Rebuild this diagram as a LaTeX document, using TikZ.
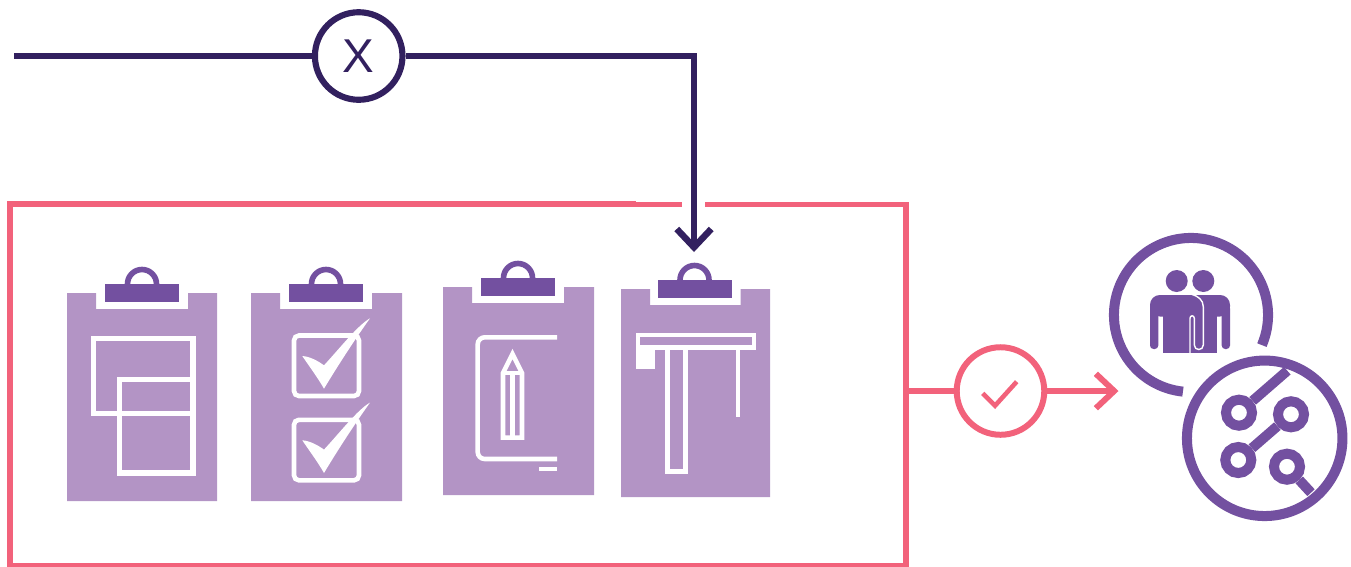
\documentclass[tikz,border=0pt]{standalone}
\usepackage{fontspec}
\setmainfont{Liberation Sans}
\usepackage{xcolor}
\usepackage{tikz}
\usetikzlibrary{arrows.meta}

\definecolor{wirepurple}{HTML}{32205F}
\definecolor{rosered}{HTML}{F2627B}
\definecolor{clippurple}{HTML}{7350A0}
\definecolor{boardpurple}{HTML}{B394C5}

\begin{document}
\begin{tikzpicture}[
  x=0.01cm, y=-0.01cm,
  panel/.style={rectangle, draw=rosered, line width=1.75pt, inner sep=0pt,
                minimum width=8.96cm, minimum height=3.615cm},
  wire/.style={draw=wirepurple, line width=1.85pt},
  gate/.style={circle, draw, fill=white, inner sep=0pt, minimum size=0.875cm},
  redwire/.style={draw=rosered, line width=1.7pt},
  sketch/.style={draw=white, line width=1.5pt},
  thinsketch/.style={draw=white, line width=1.3pt},
  band/.style={draw=clippurple, line width=2.85pt},
  hub/.style={circle, draw=clippurple, line width=2.85pt, inner sep=0pt,
              minimum size=0.26cm},
  pics/clipboard/.style 2 args={code={
    \fill[boardpurple] (0,0) -- (29,0) -- (29,16) -- (121+#2,16) -- (121+#2,0)
      -- (#1,0) -- (#1,208) -- (0,208) -- cycle;
    \draw[clippurple, line width=1.6pt] (75+#2,-9) circle[radius=14.5];
    \fill[clippurple] (38+#2,-9) rectangle (112+#2,9);
  }}
]
\useasboundingbox (0,0) rectangle (1351,566);

\node[panel] (panel) at (458,384.75) {};
\fill[white] (636,199) rectangle (911,202);
\fill[white] (682,199) rectangle (705,209);

\foreach \name/\posx/\posy/\wide/\nudge in {
  one/67/293/150/0, two/251/293/151/0, three/443/287/151/0, four/621/289/149/-1.5}
  \pic (board\name) at (\posx,\posy) {clipboard={\wide}{\nudge}};

\draw[sketch] (93.7,338.7) rectangle (193,413.3);
\draw[sketch] (119.7,379.4) rectangle (193,473);

\foreach \dy in {0,84.3} {
  \begin{scope}[shift={(0,\dy)}]
    \draw[thinsketch, rounded corners=1.4pt] (294,335.5) rectangle (359,396);
    \fill[white] (302.3,356) .. controls (310,356.5) and (318,361) .. (324,365.3)
      .. controls (340,348) and (358,325) .. (370,318.3)
      .. controls (358,335) and (340,362) .. (324,388.7)
      .. controls (318,378) and (309,366) .. cycle;
  \end{scope}
}

\draw[thinsketch, rounded corners=2pt] (557,337.3) -- (477.7,337.3) -- (477.7,459) -- (557,459);
\draw[thinsketch] (539,469) -- (557,469);
\draw[thinsketch] (503,437.7) -- (503,373) -- (512.5,354) -- (522,373) -- (522,437.7) -- cycle;
\draw[thinsketch] (503,373) -- (522,373);
\draw[thinsketch] (512.5,373) -- (512.5,437.7);

\draw[thinsketch] (638,335) rectangle (754,347.6);
\fill[white] (635.7,347.6) rectangle (655,369.3);
\draw[thinsketch] (667.3,350) -- (667.3,471.7) -- (685.4,471.7) -- (685.4,350);
\draw[thinsketch] (738,350) -- (738,417);

\coordinate (wirestart) at (14,56);
\coordinate (wiretip) at (694,252);
\node[gate, draw=wirepurple, line width=1.75pt, text=wirepurple,
      font=\fontsize{13.5}{16}\selectfont] (rejectgate) at (358.7,56) {X};
\draw[wire] (wirestart) -- (rejectgate);
\draw[wire, -{Straight Barb[length=5.2pt,width=9.8pt]}] (rejectgate) -| (wiretip);

\node[gate, draw=rosered, line width=1.7pt] (passgate) at (1000.5,391) {};
\draw[draw=rosered, line width=1.3pt] (982.7,393.3) -- (995,405.7) -- (1016.7,381.7);
\coordinate (passtip) at (1118.5,391);
\draw[redwire] (passgate) -- (passgate -| panel.east);
\draw[redwire, -{Straight Barb[length=5.2pt,width=9.8pt]}] (passgate) -- (passtip);

\coordinate (arcstart) at (1261.9,345.1);
\draw[band] (arcstart) arc[start angle=-23, end angle=264, radius=0.77cm];

\fill[clippurple] (1176.7,281) circle[radius=11];
\fill[clippurple] (1203.3,281) circle[radius=11];
\fill[clippurple, rounded corners=2.8pt] (1150,295) rectangle (1230,316.5);
\fill[clippurple, rounded corners=1pt] (1150,305) rectangle (1158.3,349);
\fill[clippurple] (1162.7,305) rectangle (1217.3,353.3);
\fill[clippurple, rounded corners=1pt] (1221.7,305) rectangle (1230,349);
\draw[white, line width=0.4pt] (1191.7,294.3) .. controls (1198,296) and (1203.3,300) .. (1203.3,306.7)
  -- (1203.3,345) .. controls (1203.3,351) and (1194.3,351) .. (1194.3,345)
  -- (1194.3,318.3) .. controls (1194.3,315) and (1190,315) .. (1190,318.3) -- (1190,353.3);

\node[circle, band, inner sep=0pt, minimum size=1.554cm] (toolring) at (1264.7,438.3) {};
\node[hub] (hubnw) at (1239,412.7) {};
\node[hub] (hubne) at (1291,414.3) {};
\node[hub] (hubsw) at (1238.3,460) {};
\node[hub] (hubse) at (1287,466.7) {};
\coordinate (edgenorth) at (1287.3,370.7);
\coordinate (edgesouth) at (1311,492.7);
\draw[band] (hubnw) -- (edgenorth);
\draw[band] (hubne) -- (hubsw);
\draw[band] (hubse) -- (edgesouth);
\end{tikzpicture}
\end{document}
